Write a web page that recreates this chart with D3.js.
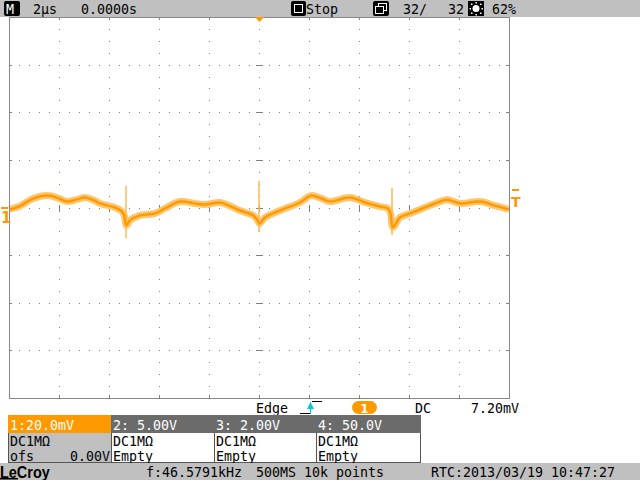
<!DOCTYPE html>
<html><head><meta charset="utf-8">
<script src="https://cdn.jsdelivr.net/npm/d3@7"></script>
<style>
body{margin:0;background:#fff}
svg{display:block}
text{font-family:"DejaVu Sans Mono","Liberation Mono",monospace}
</style>
</head><body>
<svg id="c" width="640" height="480"></svg>
<script>
const timeUs = [-10.0,-9.6,-9.04,-8.44,-8.0,-7.68,-7.3,-6.96,-6.6,-6.36,-5.76,-5.5,-5.4,-5.3,-5.16,-4.76,-4.16,-3.76,-3.16,-2.56,-2.16,-1.56,-1.2,-0.76,-0.24,-0.08,0.02,0.24,0.84,1.64,2.08,2.5,2.84,3.64,4.24,4.84,5.16,5.26,5.36,5.64,6.04,6.44,7.04,7.52,8.04,8.84,9.44,10.0];
const voltsMv = [-0.8,0.4,3.75,5.0,3.8,2.5,3.3,4.2,3.0,1.7,0.0,-1.5,-3.0,-7.5,-5.4,-3.3,-2.5,-0.4,2.5,1.7,1.25,2.1,0.8,-1.25,-3.3,-5.0,-6.7,-4.2,-1.25,2.1,5.0,3.8,2.5,4.2,2.1,0.4,-0.4,-2.5,-8.3,-4.2,-2.5,-0.8,1.7,3.3,1.7,2.5,0.8,-0.8];
const spikeTimes = [-5.32, 0.0, 5.32];
const spikeHigh = [9.2, 11.2, 8.3];
const spikeLow = [-12.9, -10.4, -11.7];
const timePerDiv = 2;      // µs
const voltPerDiv = 20;     // mV
const trigLevelMv = 7.2;
const offsetMv = 0;
const topTexts = ["2µs","0.0000s","Stop","32/","32","62%"];
const chanHeaders = ["1:20.0mV","2: 5.00V","3: 2.00V","4: 50.0V"];
const chanRow2 = ["DC1MΩ","DC1MΩ","DC1MΩ","DC1MΩ"];
const chanRow3 = ["ofs","Empty","Empty","Empty"];
const statusTexts = ["f:46.5791kHz","500MS 10k points","RTC:2013/03/19 10:47:27"];

// ---------- layout ----------
const svg = d3.select("#c");
const L=9, R=509, T=17, B=398;
const x = d3.scaleLinear().domain([-5*timePerDiv, 5*timePerDiv]).range([L,R]);
const y = d3.scaleLinear().domain([-4*voltPerDiv, 4*voltPerDiv]).range([B,T]);
const ORANGE="#ff9900", GRID="#7f7f7f", BAR="#c0c0c0";

svg.append("rect").attr("width",640).attr("height",480).attr("fill","#fff");

function txt(g,xx,yy,s,o={}){
  const t=g.append("text").attr("x",xx).attr("y",yy).text(s)
    .attr("font-size",o.size||14).attr("fill",o.fill||"#000");
  if(o.anchor) t.attr("text-anchor",o.anchor);
  if(o.weight) t.attr("font-weight",o.weight);
  if(o.family) t.style("font-family",o.family);
  if(!o.free) t.attr("textLength",s.length*(o.adv||8)).attr("lengthAdjust","spacingAndGlyphs");
  return t;
}

// ---------- grid ----------
const grid = svg.append("g");
const majorT = d3.range(-5,6).map(d=>d*timePerDiv);
const majorV = d3.range(-4,5).map(d=>d*voltPerDiv);
const minorT = d3.range(-25,26).map(d=>d*timePerDiv/5);
const minorV = d3.range(-16,17).map(d=>d*voltPerDiv/4);
majorV.slice(1,-1).forEach(v=>{
  if(v===0) return;
  grid.selectAll(null).data(minorT.slice(1,-1)).enter().append("rect")
    .attr("x",d=>Math.round(x(d))).attr("y",Math.round(y(v))).attr("width",1).attr("height",1).attr("fill",GRID);
});
majorT.slice(1,-1).forEach(t=>{
  if(t===0) return;
  grid.selectAll(null).data(minorV.slice(1,-1)).enter().append("rect")
    .attr("x",Math.round(x(t))).attr("y",d=>Math.round(y(d))).attr("width",1).attr("height",1).attr("fill",GRID);
});
const isMajT = d=>Math.abs(d%timePerDiv)<1e-9, isMajV = d=>Math.abs(d%voltPerDiv)<1e-9;
grid.selectAll(null).data(minorT.slice(1,-1)).enter().append("rect")
  .attr("x",d=>Math.round(x(d))).attr("y",d=> isMajT(d)? Math.round(y(0))-3 : Math.round(y(0)))
  .attr("width",1).attr("height",d=>isMajT(d)?7:1).attr("fill",GRID);
grid.selectAll(null).data(minorV.slice(1,-1)).enter().append("rect")
  .attr("y",d=>Math.round(y(d))).attr("x",d=>isMajV(d)? Math.round(x(0))-3 : Math.round(x(0)))
  .attr("height",1).attr("width",d=>isMajV(d)?7:1).attr("fill",GRID);
majorT.slice(1,-1).forEach(t=>{
  grid.append("rect").attr("x",Math.round(x(t))).attr("y",T).attr("width",1).attr("height",3).attr("fill",GRID);
  grid.append("rect").attr("x",Math.round(x(t))).attr("y",B-3).attr("width",1).attr("height",3).attr("fill",GRID);
});
majorV.slice(1,-1).forEach(v=>{
  grid.append("rect").attr("x",L).attr("y",Math.round(y(v))).attr("width",3).attr("height",1).attr("fill",GRID);
  grid.append("rect").attr("x",R-3).attr("y",Math.round(y(v))).attr("width",3).attr("height",1).attr("fill",GRID);
});

// ---------- trace ----------
const pts = timeUs.map((t,i)=>[t,voltsMv[i]]);
const line = d3.line().x(d=>x(d[0])).y(d=>y(d[1])).curve(d3.curveCatmullRom.alpha(0.5));
svg.append("path").attr("d",line(pts)).attr("fill","none").attr("stroke","#ffc670").attr("stroke-width",7).attr("stroke-linejoin","round");
spikeTimes.forEach((t,i)=>{
  svg.append("line").attr("x1",x(t)).attr("x2",x(t)).attr("y1",y(spikeHigh[i])).attr("y2",y(spikeLow[i]))
    .attr("stroke","#ffbb55").attr("stroke-width",1.5);
});
svg.append("path").attr("d",line(pts)).attr("fill","none").attr("stroke",ORANGE).attr("stroke-width",2.5).attr("stroke-linejoin","round");

svg.append("rect").attr("x",L+0.5).attr("y",T+0.5).attr("width",R-L).attr("height",B-T).attr("fill","none").attr("stroke","#888").attr("stroke-width",1);

// ---------- markers ----------
svg.append("rect").attr("x",1).attr("y",Math.round(y(offsetMv))-1).attr("width",7).attr("height",2).attr("fill",ORANGE);
txt(svg,1,223,"1",{fill:ORANGE,size:15,weight:"bold",free:true,family:"DejaVu Sans"});
svg.append("rect").attr("x",512).attr("y",Math.round(y(trigLevelMv))-1).attr("width",7).attr("height",2).attr("fill",ORANGE);
txt(svg,511,207,"T",{fill:ORANGE,size:14,weight:"bold",free:true,family:"DejaVu Sans"});
const tx = x(0);
svg.append("path").attr("d",`M${tx-4},${T}L${tx+5},${T}L${tx+0.5},${T+5}Z`).attr("fill",ORANGE);

// ---------- top bar ----------
const topBar = svg.append("g");
topBar.append("rect").attr("width",640).attr("height",T).attr("fill",BAR);
topBar.append("rect").attr("x",4).attr("y",1).attr("width",16).attr("height",15).attr("rx",2).attr("fill","#000");
txt(topBar,6,14,"M",{fill:"#fff",size:14});
txt(topBar,33,14,topTexts[0]);
txt(topBar,81,14,topTexts[1]);
topBar.append("rect").attr("x",291).attr("y",1).attr("width",15).attr("height",15).attr("rx",2).attr("fill","#000");
topBar.append("rect").attr("x",294.5).attr("y",4.5).attr("width",8).attr("height",8).attr("fill","none").attr("stroke","#fff").attr("stroke-width",1);
txt(topBar,306,14,topTexts[2]);
topBar.append("rect").attr("x",373).attr("y",1).attr("width",16).attr("height",15).attr("rx",2).attr("fill","#000");
topBar.append("rect").attr("x",378.5).attr("y",3.5).attr("width",8).attr("height",7).attr("fill","none").attr("stroke","#fff");
topBar.append("rect").attr("x",375.5).attr("y",6.5).attr("width",8).attr("height",7).attr("fill","#000").attr("stroke","#fff");
txt(topBar,403,14,topTexts[3]);
txt(topBar,448,14,topTexts[4]);
topBar.append("rect").attr("x",468).attr("y",1).attr("width",16).attr("height",15).attr("fill","#000");
topBar.append("circle").attr("cx",476).attr("cy",8.5).attr("r",3.5).attr("fill","#fff");
[[0,-6],[0,6],[-6,0],[6,0],[-4.5,-4.5],[4.5,4.5],[-4.5,4.5],[4.5,-4.5]].forEach(p=>{
  topBar.append("rect").attr("x",476+p[0]-0.5).attr("y",8.5+p[1]-0.5).attr("width",1.5).attr("height",1.5).attr("fill","#fff");
});
txt(topBar,492,14,topTexts[5]);

// ---------- trigger line ----------
const trg = svg.append("g");
txt(trg,256,413,"Edge");
trg.append("path").attr("d","M300,413.5H310M312,401.5H322").attr("stroke","#000").attr("fill","none");
trg.append("line").attr("x1",310.5).attr("x2",310.5).attr("y1",402).attr("y2",414).attr("stroke","#00c8e6").attr("stroke-width",1);
trg.append("path").attr("d","M310.5,402L314,409H307Z").attr("fill","#00c8e6");
trg.append("rect").attr("x",352).attr("y",401).attr("width",25).attr("height",13).attr("rx",6.5).attr("fill",ORANGE);
txt(trg,364.5,412.5,"1",{fill:"#fff",size:12,anchor:"middle",free:true,weight:"bold",family:"DejaVu Sans"});
txt(trg,415,413,"DC");
txt(trg,471,413,trigLevelMv.toFixed(2)+"mV");

// ---------- channel panels ----------
const px=[8,111,214,316], pw=[103,103,102,104];
const pan = svg.append("g");
chanHeaders.forEach((h,i)=>{
  pan.append("rect").attr("x",px[i]+0.5).attr("y",432.5).attr("width",pw[i]).attr("height",30).attr("fill",i===0?BAR:"#fff").attr("stroke","#555");
  pan.append("rect").attr("x",px[i]+0.5).attr("y",415.5).attr("width",pw[i]).attr("height",17).attr("fill",i===0?ORANGE:"#6b6b6b").attr("stroke",i===0?ORANGE:"#6b6b6b");
  txt(pan,px[i]+2,430,h,{fill:"#fff"});
  txt(pan,px[i]+2,446,chanRow2[i]);
  txt(pan,px[i]+2,461,chanRow3[i]);
});
txt(pan,110,461,(offsetMv/1000).toFixed(2)+"V",{anchor:"end"});

// ---------- status bar ----------
const st = svg.append("g");
st.append("rect").attr("y",463).attr("width",640).attr("height",17).attr("fill",BAR);
txt(st,0,478,"LeCroy",{size:16,weight:"bold",family:"Liberation Sans",adv:8.3});
st.append("rect").attr("x",0).attr("y",478).attr("width",18).attr("height",1.5).attr("fill","#000");
txt(st,146,477,statusTexts[0]);
txt(st,256,477,statusTexts[1]);
txt(st,431,477,statusTexts[2]);
</script>
</body></html>
